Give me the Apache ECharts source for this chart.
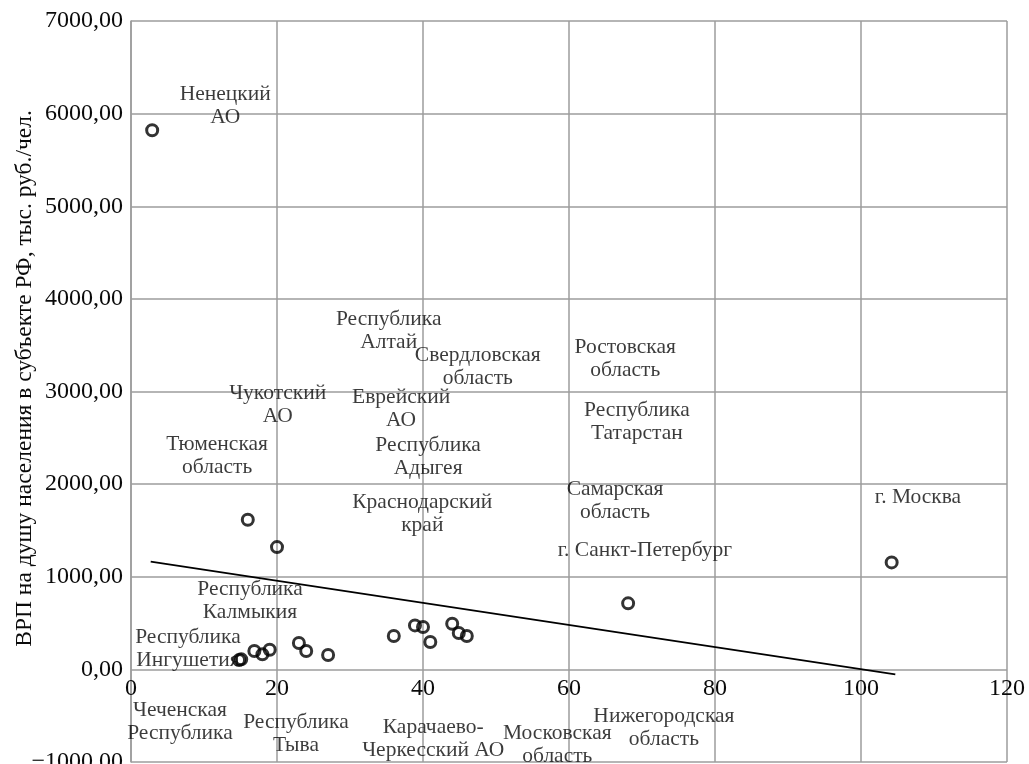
<!DOCTYPE html>
<html>
<head>
<meta charset="utf-8">
<script src="https://cdn.jsdelivr.net/npm/echarts@6/dist/echarts.min.js"></script>
<style>html,body{margin:0;padding:0;background:#fff}#c{width:1029px;height:764px}</style>
</head>
<body>
<div id="c"></div>
<script>
// Observed points (x: share, y: GRP per capita)
const pointX = [2.9, 16.0, 20.0, 15.1, 14.8, 16.9, 18.0, 19.0, 23.0, 24.0, 27.0, 36.0, 38.9, 40.0, 41.0, 44.0, 44.9, 46.0, 68.1, 104.2];
const pointY = [5820, 1615, 1320, 108, 100, 198, 162, 212, 284, 198, 155, 360, 475, 457, 295, 493, 392, 360, 713, 1155];

// Trend line endpoints
const trendX = [2.7, 104.7];
const trendY = [1163, -54];

// Region annotations
const labelNames = [
  'Ненецкий\nАО', 'Республика\nАлтай', 'Свердловская\nобласть', 'Ростовская\nобласть',
  'Республика\nТатарстан', 'Чукотский\nАО', 'Еврейский\nАО', 'Тюменская\nобласть',
  'Республика\nАдыгея', 'Краснодарский\nкрай', 'Самарская\nобласть', 'г. Санкт-Петербург',
  'г. Москва', 'Республика\nКалмыкия', 'Республика\nИнгушетия', 'Чеченская\nРеспублика',
  'Республика\nТыва', 'Карачаево-\nЧеркесский АО', 'Московская\nобласть', 'Нижегородская\nобласть'
];
const labelX = [12.9, 35.3, 47.5, 67.7, 69.3, 20.1, 37.0, 11.8, 40.7, 39.9, 66.3, 70.4, 107.8, 16.3, 7.8, 6.7, 22.6, 41.4, 58.4, 73.0];
const labelY = [6080, 3655, 3267, 3353, 2667, 2856, 2813, 2306, 2295, 1674, 1820, 1285, 1857, 745, 221, -562, -697, -751, -810, -632];

const xTicks = { min: 0, max: 120, interval: 20 };
const yTicks = { min: -1000, max: 7000, interval: 1000 };
const yTitle = 'ВРП на душу населения в субъекте РФ, тыс. руб./чел.';

const FONT = 'Liberation Serif';
const TXT = '#0a0a0a';
const GRID = '#9c9c9c';

const chart = echarts.init(document.getElementById('c'));
const gridTop = 21, gridBottom = 2, H = 764;
const plotH = H - gridTop - gridBottom;
const zeroOffset = -plotH * (0 - yTicks.min) / (yTicks.max - yTicks.min);

chart.setOption({
  animation: false,
  backgroundColor: '#fff',
  grid: { left: 131, right: 22, top: gridTop, bottom: gridBottom, containLabel: false, outerBoundsMode: 'none' },
  xAxis: {
    type: 'value', min: xTicks.min, max: xTicks.max, interval: xTicks.interval,
    position: 'bottom', offset: zeroOffset,
    axisLine: { show: false, onZero: false },
    axisTick: { show: false },
    axisLabel: { color: TXT, fontFamily: FONT, fontSize: 24, margin: 7 },
    splitLine: { show: true, lineStyle: { color: GRID, width: 1.5 } }
  },
  yAxis: {
    type: 'value', min: yTicks.min, max: yTicks.max, interval: yTicks.interval,
    name: yTitle, nameLocation: 'middle', nameRotate: 90, nameGap: 94, nameMoveOverlap: false,
    nameTextStyle: { color: TXT, fontFamily: FONT, fontSize: 23.5, padding: [0, 0, 0, 26] },
    axisLine: { show: true, onZero: false, lineStyle: { color: GRID, width: 1.5 } },
    axisTick: { show: false },
    axisLabel: {
      color: TXT, fontFamily: FONT, fontSize: 24, margin: 8,
      formatter: v => (v < 0 ? '\u2212' : '') + Math.abs(v).toFixed(2).replace('.', ',')
    },
    splitLine: { show: true, lineStyle: { color: GRID, width: 1.5 } }
  },
  series: [
    {
      type: 'line',
      data: trendX.map((x, i) => [x, trendY[i]]),
      symbol: 'none',
      lineStyle: { color: '#000', width: 1.8 },
      silent: true, z: 3
    },
    {
      type: 'scatter',
      data: pointX.map((x, i) => [x, pointY[i]]),
      symbol: 'circle', symbolSize: 11,
      itemStyle: { color: 'rgba(0,0,0,0)', borderColor: '#000', borderWidth: 3 },
      silent: true, z: 4
    },
    {
      type: 'scatter',
      data: labelNames.map((n, i) => ({ name: n, value: [labelX[i], labelY[i]] })),
      symbolSize: 0,
      silent: true, z: 5,
      label: {
        show: true, position: 'inside', formatter: p => p.name,
        color: TXT, fontFamily: FONT, fontSize: 21.5, lineHeight: 23, align: 'center'
      }
    }
  ]
});
</script>
</body>
</html>
